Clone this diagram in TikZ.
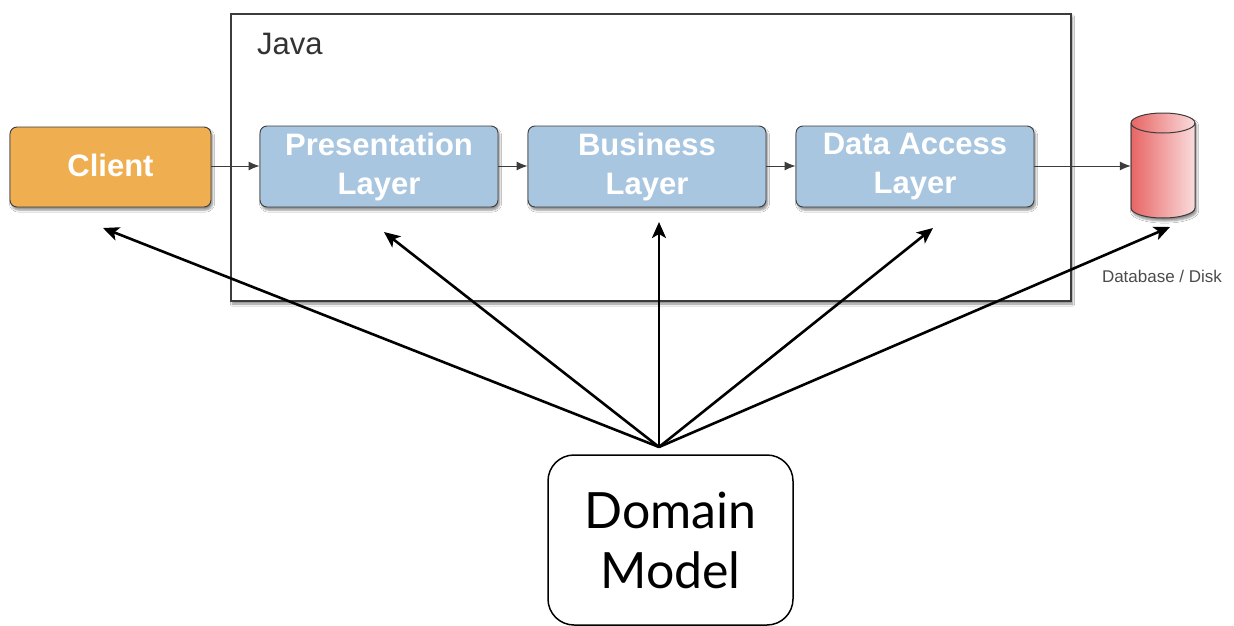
\documentclass[tikz,border=0pt]{standalone}
\usepackage{fontspec}
\setmainfont{Liberation Sans}
\newfontfamily\gillfont{Lato}
\usetikzlibrary{arrows.meta,shadows.blur}
\definecolor{clientfill}{HTML}{EFAE50}
\definecolor{layerfill}{HTML}{A8C6E0}
\definecolor{boxline}{HTML}{3C3C3C}
\definecolor{dbleft}{HTML}{E86565}
\definecolor{dbright}{HTML}{FADCDC}
\tikzset{
  softshadow/.style={blur shadow={shadow xshift=1.5pt,shadow yshift=-3pt,shadow blur steps=6,shadow opacity=45}},
  layerbox/.style={draw=boxline,line width=0.9pt,rounded corners=7pt,fill=layerfill,minimum width=238pt,minimum height=81pt,
    text=white,font=\bfseries\fontsize{31pt}{39pt}\selectfont,align=center,inner sep=0pt,softshadow},
  clientbox/.style={layerbox,fill=clientfill,minimum width=201pt,minimum height=80pt},
  thinarrow/.style={draw=boxline,line width=1pt,-{Latex[length=11pt,width=9pt]}},
  thickarrow/.style={draw=black,line width=2.6pt,-{Stealth[length=16pt,width=14pt,inset=4pt]}},
}
\begin{document}
\begin{tikzpicture}[x=1pt,y=-1pt]
\useasboundingbox (0,0) rectangle (1234,626);
\fill[white] (0,0) rectangle (1234,626);
% Java container
\node[draw=boxline,line width=1.4pt,fill=white,minimum width=840pt,minimum height=287pt,inner sep=0pt,softshadow] (java) at (651,157.5) {};
\node[anchor=base west,font=\fontsize{31pt}{36pt}\selectfont,text=black!80,inner sep=0pt] (javalbl) at (257,55) {Java};
% boxes
\node[clientbox] (client) at (110.5,167) {\raisebox{3pt}{Client}};
\node[layerbox] (pres) at (379,166.5) {Presentation\\Layer};
\node[layerbox] (bus) at (647,166.5) {Business\\Layer};
\node[layerbox] (dal) at (915,166.5) {Data Access\\Layer};
% database
\node[minimum width=64pt,minimum height=105pt,inner sep=0pt] (db) at (1163,165.5) {};
\path[softshadow,left color=dbleft,right color=dbright,draw=boxline,line width=1pt]
  (1131,123) -- (1131,208) arc[start angle=180,end angle=0,x radius=32,y radius=10]
  -- (1195,123) arc[start angle=0,end angle=-180,x radius=32,y radius=10] -- cycle;
\draw[boxline,line width=1pt] (1131,123) arc[start angle=180,end angle=0,x radius=32,y radius=10];
\node[anchor=base,font=\fontsize{17pt}{20pt}\selectfont,text=black!70,inner sep=0pt] (dblbl) at (1162,282) {Database / Disk};
% domain model
\node[draw=black,line width=1.5pt,rounded corners=26pt,fill=white,minimum width=245pt,minimum height=170pt,inner sep=0pt,
  font=\gillfont\fontsize{50pt}{60pt}\selectfont,align=center] (dm) at (670.5,540) {Domain\\Model};
% thin arrows
\draw[thinarrow] (client.east |- 0,166) -- (pres.west |- 0,166);
\draw[thinarrow] (pres.east |- 0,166) -- (bus.west |- 0,166);
\draw[thinarrow] (bus.east |- 0,166) -- (dal.west |- 0,166);
\draw[thinarrow] (dal.east |- 0,166) -- (db.west |- 0,166);
% thick arrows
\coordinate (hub) at (659,447);
\coordinate (tclient) at (103,228);
\coordinate (tpres) at (384,232);
\coordinate (tbus) at (659,222);
\coordinate (tdal) at (933,228);
\coordinate (tdb) at (1170,227);
\draw[thickarrow] (hub) -- (tclient);
\draw[thickarrow] (hub) -- (tpres);
\draw[thickarrow] (hub) -- (tbus);
\draw[thickarrow] (hub) -- (tdal);
\draw[thickarrow] (hub) -- (tdb);
\end{tikzpicture}
\end{document}
